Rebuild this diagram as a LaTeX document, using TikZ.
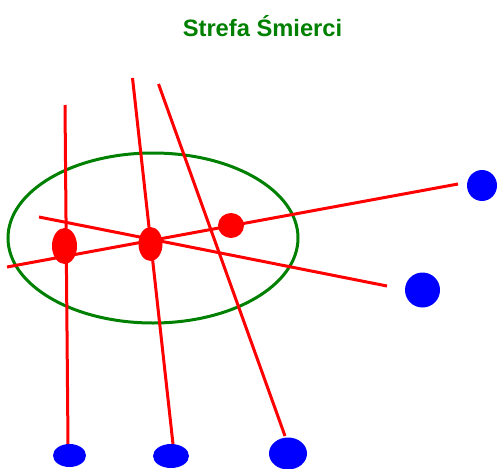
\documentclass[tikz,border=0pt]{standalone}
\usepackage{fontspec}
\setmainfont{Liberation Sans}
\usetikzlibrary{shapes.geometric}
\definecolor{zgreen}{RGB}{0,128,0}
\definecolor{zred}{RGB}{255,0,0}
\definecolor{zblue}{RGB}{0,0,255}
\tikzset{
  redline/.style={draw=zred,line width=3pt},
  reddot/.style={ellipse,fill=zred,inner sep=0pt},
  bluedot/.style={ellipse,fill=zblue,inner sep=0pt},
  zone/.style={ellipse,draw=zgreen,line width=3pt,inner sep=0pt}
}
\begin{document}
\begin{tikzpicture}[x=1pt,y=-1pt]
\useasboundingbox (0,0) rectangle (497,468);
\clip (0,0) rectangle (497,468);
\node[anchor=base,text=zgreen,font=\fontsize{23.7}{28}\selectfont\bfseries,inner sep=0pt] (title) at (262.5,37) {Strefa Śmierci};
\node[zone,minimum width=290pt,minimum height=170pt] (zone) at (153,238) {};
% blue dots
\node[bluedot,minimum width=30pt,minimum height=31pt] (b1) at (482,185.5) {};
\node[bluedot,minimum width=35pt,minimum height=35pt] (b2) at (422.5,290) {};
\node[bluedot,minimum width=33pt,minimum height=23pt] (b3) at (69.5,455.5) {};
\node[bluedot,minimum width=36pt,minimum height=24pt] (b4) at (171,456) {};
\node[bluedot,minimum width=38pt,minimum height=32pt] (b5) at (288,453.5) {};
% line end points
\coordinate (t1) at (65,105);
\coordinate (e1) at (68,444);
\coordinate (t2) at (132.5,78);
\coordinate (e2) at (173,444);
\coordinate (t3) at (158.5,84);
\coordinate (e3) at (285,436);
\coordinate (s4) at (7,267);
\coordinate (e4) at (458,184);
\coordinate (s5) at (39,217);
\coordinate (e5) at (387,286);
\draw[redline] (t1) -- (e1);
\draw[redline] (t2) -- (e2);
\draw[redline] (t3) -- (e3);
\draw[redline] (s4) -- (e4);
\draw[redline] (s5) -- (e5);
% red dots
\node[reddot,minimum width=25pt,minimum height=36pt] (r1) at (64.5,246) {};
\node[reddot,minimum width=24pt,minimum height=34pt] (r2) at (150.5,244) {};
\node[reddot,minimum width=26pt,minimum height=25pt] (r3) at (231,225.5) {};
\end{tikzpicture}
\end{document}
